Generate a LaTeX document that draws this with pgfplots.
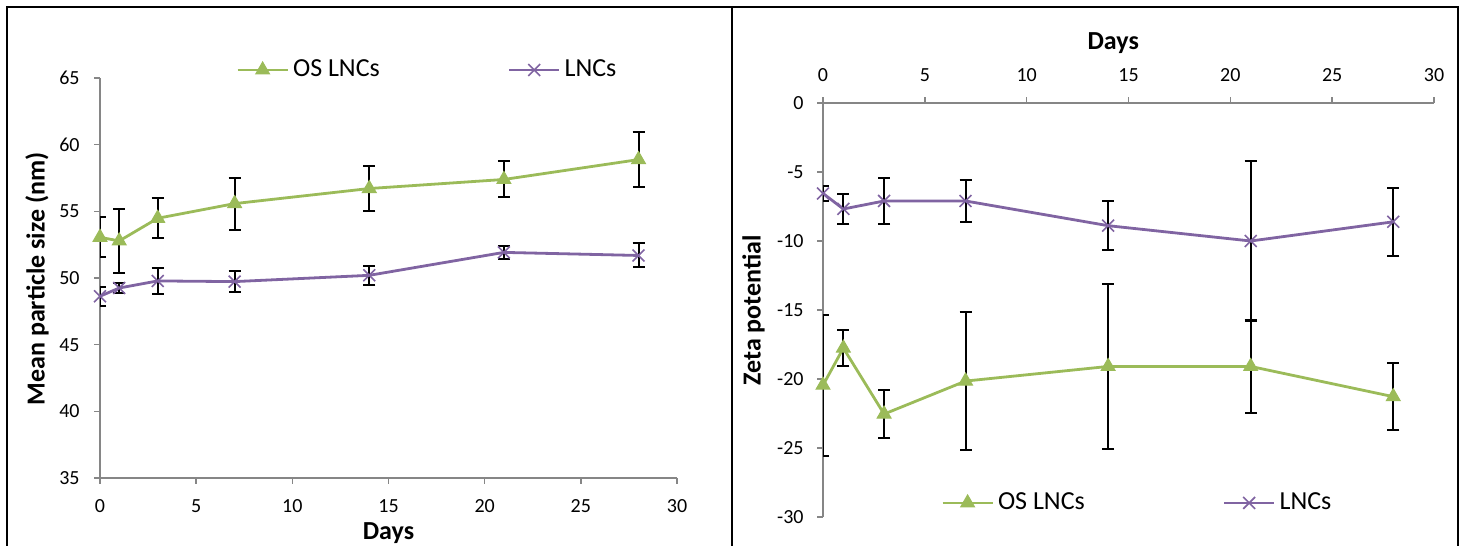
\documentclass[border=0pt]{standalone}
\usepackage{fontspec}
\setmainfont{Carlito}
\usepackage{pgfplots}
\usepackage{pgfplotstable}
\pgfplotsset{compat=1.18}
\definecolor{osgreen}{RGB}{155,187,89}
\definecolor{lncpurple}{RGB}{128,100,162}
\definecolor{axisgray}{RGB}{134,134,134}

\pgfplotstableread{
day val err
0 53.05 1.5
1 52.78 2.4
3 54.48 1.5
7 55.58 1.95
14 56.71 1.7
21 57.39 1.35
28 58.88 2.05
}\sizeOS
\pgfplotstableread{
day val err
0 48.63 0.7
1 49.25 0.4
3 49.78 1.0
7 49.73 0.78
14 50.2 0.7
21 51.92 0.5
28 51.69 0.9
}\sizeLNC
\pgfplotstableread{
day val err
0 -20.45 5.1
1 -17.76 1.3
3 -22.54 1.75
7 -20.15 5.0
14 -19.09 6.0
21 -19.09 3.4
28 -21.28 2.45
}\zetaOS
\pgfplotstableread{
day val err
0 -6.55 0.55
1 -7.68 1.07
3 -7.1 1.7
7 -7.1 1.55
14 -8.89 1.78
21 -10.0 5.8
28 -8.61 2.45
}\zetaLNC

\pgfplotsset{
  excel/.style={
    scale only axis,
    /pgf/number format/assume math mode=true,
    tick label style={font=\fontsize{10}{12}\selectfont},
    label style={font=\bfseries\fontsize{13}{15}\selectfont},
    axis line style={draw=axisgray, line width=0.75pt, -},
    major tick style={draw=axisgray, line width=0.75pt},
    major tick length=3pt,
    tick align=outside,
    xmin=0, xmax=30, xtick={0,5,...,30},
    legend cell align=left,
    legend image code/.code={\draw[mark repeat=2,mark phase=2,##1] plot coordinates {(0pt,0pt) (12.5pt,0pt) (25pt,0pt)};},
  },
  osstyle/.style={color=osgreen, line width=1.4pt, mark=triangle*, mark size=4pt,
    mark options={fill=osgreen, draw=osgreen, line width=0.5pt},
    error bars/.cd, y dir=both, y explicit,
    error bar style={black, line width=1pt},
    error mark options={rotate=90, black, mark size=3pt, line width=1pt}},
  lncstyle/.style={color=lncpurple, line width=1.4pt, mark=x, mark size=4.2pt,
    mark options={draw=lncpurple, line width=0.8pt},
    error bars/.cd, y dir=both, y explicit,
    error bar style={black, line width=1pt},
    error mark options={rotate=90, black, mark size=3pt, line width=1pt}},
}

\begin{document}
\begin{tikzpicture}
\path[use as bounding box] (0pt,0pt) rectangle (732pt,273pt);
\draw[line width=1pt] (3.5pt,-5pt) -- (3.5pt,269.5pt) -- (366pt,269.5pt);
\draw[line width=1pt] (366pt,-5pt) -- (366pt,269.5pt) -- (729pt,269.5pt) -- (729pt,-5pt);

\begin{axis}[excel,
  at={(50pt,34pt)}, anchor=south west,
  width=288.5pt, height=200pt,
  axis x line*=bottom, axis y line*=left,
  ymin=35, ymax=65, ytick={35,40,...,65},
  xticklabel style={anchor=north, inner sep=0pt, yshift=-7.5pt},
  yticklabel style={anchor=east, inner sep=0pt, xshift=-7pt},
  xlabel={Days},
  xlabel style={at={(axis description cs:0.5,-0.1375)}, anchor=center},
  ylabel={Mean particle size (nm)},
  ylabel style={at={(axis description cs:-0.109,0.4975)}, anchor=center},
  legend style={at={(0.569,1.02)}, anchor=center, draw=none, fill=none,
    font=\fontsize{13}{15}\selectfont, legend columns=2,
    /tikz/every even column/.append style={column sep=62pt}},
]
\addplot[osstyle] table[x=day, y=val, y error=err] {\sizeOS};
\addlegendentry{OS LNCs}
\addplot[lncstyle] table[x=day, y=val, y error=err] {\sizeLNC};
\addlegendentry{LNCs}
\end{axis}

\begin{axis}[excel,
  at={(411.5pt,14.5pt)}, anchor=south west,
  width=305.5pt, height=207pt,
  axis x line*=top, axis y line*=left,
  ymin=-30, ymax=0, ytick={-30,-25,...,0},
  xticklabel style={anchor=south, inner sep=0pt, yshift=7.5pt},
  yticklabel style={anchor=east, inner sep=0pt, xshift=-6.5pt},
  xlabel={Days},
  xlabel style={at={(axis description cs:0.475,1.144)}, anchor=center},
  ylabel={Zeta potential},
  ylabel style={at={(axis description cs:-0.1137,0.499)}, anchor=center},
  legend style={at={(0.516,0.034)}, anchor=center, draw=none, fill=none,
    font=\fontsize{13}{15}\selectfont, legend columns=2,
    /tikz/every even column/.append style={column sep=67pt}},
]
\addplot[osstyle] table[x=day, y=val, y error=err] {\zetaOS};
\addlegendentry{OS LNCs}
\addplot[lncstyle] table[x=day, y=val, y error=err] {\zetaLNC};
\addlegendentry{LNCs}
\end{axis}
\end{tikzpicture}
\end{document}
